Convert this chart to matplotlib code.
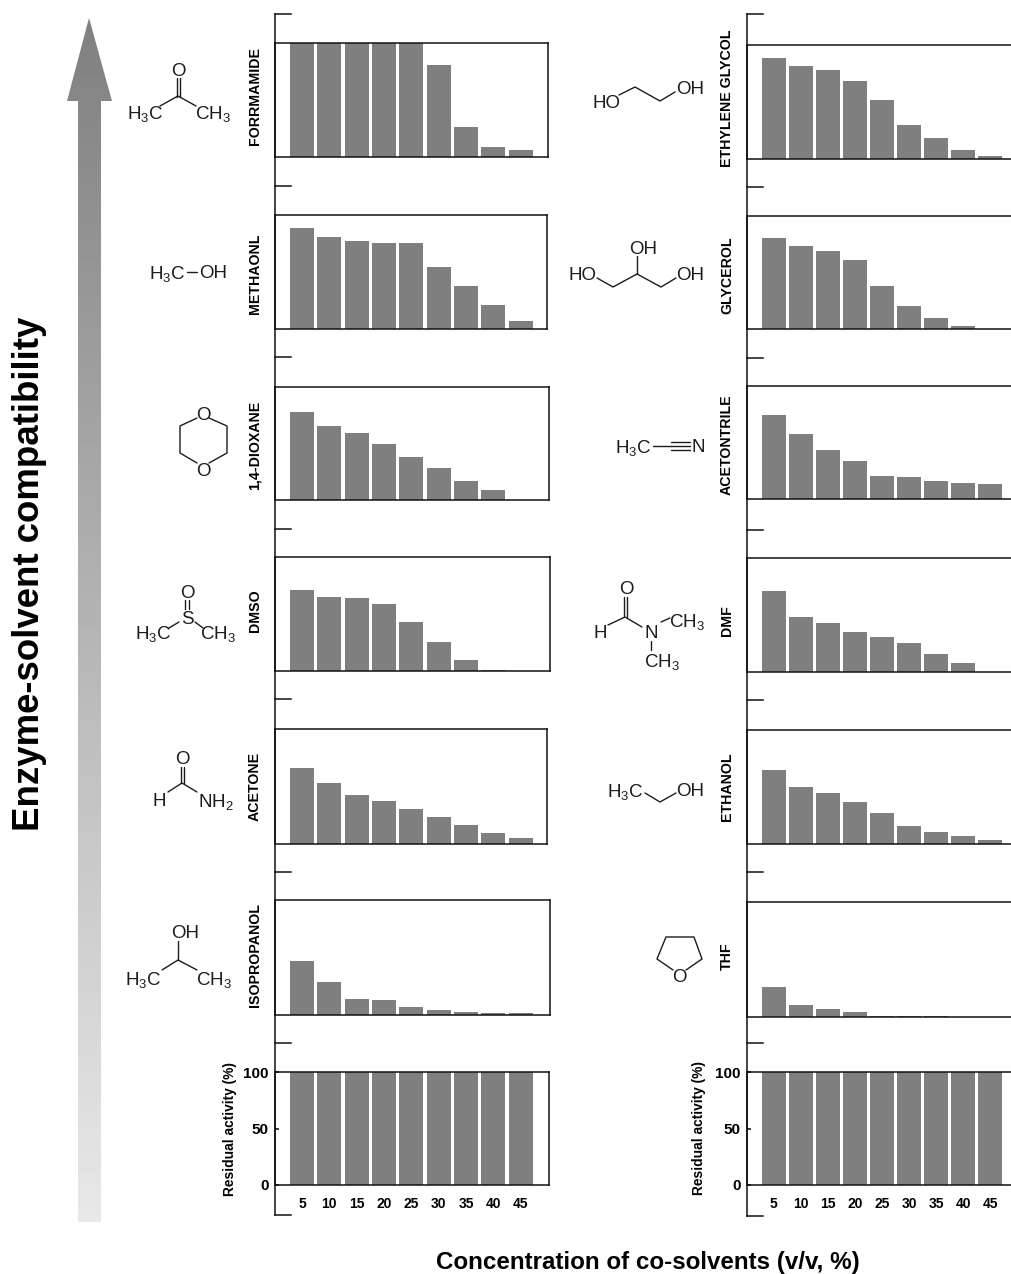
import matplotlib
matplotlib.use("Agg")
import matplotlib.pyplot as plt
from matplotlib.patches import Polygon
import numpy as np

plt.rcParams["font.family"] = ["Liberation Sans", "DejaVu Sans"]
plt.rcParams["mathtext.default"] = "regular"

WIDTH = 1011
HEIGHT = 1274
BAR_COLOR = "#7f7f7f"
INK = "#1c1c1c"

concentrations = [5, 10, 15, 20, 25, 30, 35, 40, 45]

left_names = ["FORRMAMIDE", "METHAONL", "1,4-DIOXANE", "DMSO", "ACETONE", "ISOPROPANOL"]
formamide = [100, 100, 100, 100, 100, 80.6, 26, 8.8, 6]
methanol = [88.6, 80.4, 77.5, 75.4, 75.4, 54.7, 38, 21.3, 7]
dioxane = [78, 65.5, 59, 49.5, 38, 28.3, 17, 9, 0]
dmso = [71, 65, 64, 58.8, 43, 25.4, 9.6, 0.9, 0]
acetone = [66, 53, 42.6, 37.4, 30.4, 23.5, 16.5, 9.6, 5.2]
isopropanol = [47.2, 28.4, 13.9, 13.3, 6.7, 4, 2.6, 2, 1.4]

right_names = ["ETHYLENE GLYCOL", "GLYCEROL", "ACETONTRILE", "DMF", "ETHANOL", "THF"]
ethylene_glycol = [88.9, 81.3, 77.8, 68.4, 51.5, 30, 18.7, 7.6, 2.6]
glycerol = [80.4, 73.3, 68.6, 61, 37.8, 20.2, 9.4, 2.9, 0]
acetonitrile = [74.3, 57.5, 43.4, 33.6, 20.4, 19.5, 16, 14, 13.7]
dmf = [71, 48, 43, 35, 30.7, 25.4, 15.8, 8, 0]
ethanol = [65, 50, 44.7, 36.8, 27.2, 15.8, 10.5, 7, 3.5]
thf = [26.3, 10.4, 7.2, 4.6, 1.2, 0.9, 0.7, 0, 0]

control = [100, 100, 100, 100, 100, 100, 100, 100, 100]

left_series = [formamide, methanol, dioxane, dmso, acetone, isopropanol, control]
right_series = [ethylene_glycol, glycerol, acetonitrile, dmf, ethanol, thf, control]
left_labels = left_names + [None]
right_labels = right_names + [None]

# box pixel positions: (right edge, top, bottom)
left_boxes = [(548, 43, 157), (547, 215, 329), (549, 387, 500), (550, 557, 671),
              (547, 729, 844), (550, 900, 1015), (549, 1072, 1185)]
right_boxes = [(1011, 45, 159), (1011, 216, 329), (1011, 386, 499), (1011, 558, 672),
               (1011, 730, 844), (1011, 902, 1017), (1011, 1072, 1185)]
left_label_y = [96, 274, 445, 611, 786, 955]
right_label_y = [98, 275, 445, 621, 787, 956]
left_ticks_y = [14, 186, 357, 529, 699, 872, 1043, 1215]
right_ticks_y = [14, 187, 358, 530, 700, 872, 1043, 1216]


def add_panel(fig, x_left, box, first_center, step, values, label, right_spine):
    right, top, bottom = box
    ax = fig.add_axes([x_left/WIDTH, 1-bottom/HEIGHT,
                       (right-x_left)/WIDTH, (bottom-top)/HEIGHT],
                      facecolor="none")
    per_px = 5/step
    ax.set_xlim(5-(first_center-x_left)*per_px, 5+(right-first_center)*per_px)
    ax.set_ylim(0, 100)
    ax.bar(concentrations, values, width=24*per_px, color=BAR_COLOR, linewidth=0)
    for side in ax.spines:
        ax.spines[side].set_linewidth(1.1)
        ax.spines[side].set_color("#111111")
    ax.spines["right"].set_visible(right_spine)
    if label is None:
        ax.set_yticks([0, 50, 100])
        ax.set_xticks(concentrations)
        ax.tick_params(axis="y", direction="in", length=3, width=1.1, pad=4.5,
                       labelsize=11)
        ax.tick_params(axis="x", length=0, pad=8.5, labelsize=10)
        for item in ax.get_xticklabels()+ax.get_yticklabels():
            item.set_fontweight("bold")
    else:
        ax.set_xticks([])
        ax.set_yticks([])
    return ax


def bonds(ax, *paths):
    for path in paths:
        xs, ys = zip(*path)
        ax.plot(xs, ys, color=INK, lw=1.0, solid_capstyle="round",
                solid_joinstyle="round")


def atoms(ax, *items):
    for x, y, s in items:
        ax.text(x, y, s, fontsize=13.5, color=INK, ha="center",
                va="center_baseline")


fig = plt.figure(figsize=(WIDTH/100, HEIGHT/100), dpi=100)
canvas = fig.add_axes([0, 0, 1, 1])

# gradient arrow
ramp = np.linspace(0.5, 0.91, 256).reshape(-1, 1)
image = canvas.imshow(ramp, cmap="gray", vmin=0, vmax=1, extent=[60, 120, 1222, 18],
                      aspect="auto", interpolation="bilinear")
arrow = Polygon([(89, 18), (112, 101), (101, 101), (101, 1222), (78, 1222),
                 (78, 101), (67, 101)], closed=True, transform=canvas.transData,
                facecolor="none", edgecolor="none")
canvas.add_patch(arrow)
image.set_clip_path(arrow)
canvas.set_xlim(0, WIDTH)
canvas.set_ylim(HEIGHT, 0)
canvas.axis("off")

canvas.text(30, 574, "Enzyme-solvent compatibility", rotation=90, fontsize=26.4,
            fontweight="bold", ha="center", va="center", color="black")
canvas.text(648, 1263, "Concentration of co-solvents (v/v, %)", fontsize=17.4,
            fontweight="bold", ha="center", va="center", color="black")
canvas.text(230, 1129, "Residual activity (%)", rotation=90, fontsize=9.9,
            fontweight="bold", ha="center", va="center")
canvas.text(699, 1128, "Residual activity (%)", rotation=90, fontsize=9.9,
            fontweight="bold", ha="center", va="center")

# long shared axis line with its loose ticks
for x, ticks in [(275, left_ticks_y), (747, right_ticks_y)]:
    canvas.plot([x, x], [ticks[0], ticks[-1]], color="#111111", lw=1.1)
    for y in ticks:
        canvas.plot([x, x+16], [y, y], color="#111111", lw=1.1)

for values, box, label, label_y in zip(left_series, left_boxes, left_labels,
                                       left_label_y+[None]):
    add_panel(fig, 275, box, 302, 27.35, values, label, True)
    if label is not None:
        canvas.text(255, label_y, label, rotation=90, fontsize=10.2, fontweight="bold",
                    ha="center", va="center")
for values, box, label, label_y in zip(right_series, right_boxes, right_labels,
                                       right_label_y+[None]):
    add_panel(fig, 747, box, 773.5, 27.1, values, label, False)
    if label is not None:
        canvas.text(727, label_y, label, rotation=90, fontsize=10.2, fontweight="bold",
                    ha="center", va="center")

# acetone
atoms(canvas, (178, 69, "O"), (145, 111, "H$_3$C"), (213, 111, "CH$_3$"))
bonds(canvas, [(176.5, 78), (176.5, 97)], [(179.5, 78), (179.5, 97)],
      [(160, 106), (178, 96), (196, 106)])
# methanol
atoms(canvas, (167, 272, "H$_3$C"), (213, 272, "OH"))
bonds(canvas, [(187, 272), (197, 272)])
# 1,4-dioxane
atoms(canvas, (203, 413, "O"), (203, 469, "O"))
bonds(canvas, [(197, 418), (180, 426), (180, 453), (197, 463)],
      [(209, 418), (227, 426), (227, 453), (209, 463)])
# DMSO
atoms(canvas, (187, 592, "O"), (187, 618, "S"), (153, 631, "H$_3$C"), (218, 631, "CH$_3$"))
bonds(canvas, [(185, 600), (185, 609)], [(189, 600), (189, 609)],
      [(169, 628), (179, 622)], [(195, 622), (203, 628)])
# formamide
atoms(canvas, (182, 758, "O"), (159, 799, "H"), (216, 799, "NH$_2$"))
bonds(canvas, [(180.5, 767), (180.5, 783)], [(183.5, 767), (183.5, 783)],
      [(168, 792), (182, 783), (197, 792)])
# isopropanol
atoms(canvas, (185, 932, "OH"), (143, 977, "H$_3$C"), (214, 977, "CH$_3$"))
bonds(canvas, [(178, 941), (178, 960)], [(162, 970), (178, 960), (197, 970)])
# ethylene glycol
atoms(canvas, (606, 101, "HO"), (690, 87, "OH"))
bonds(canvas, [(619, 95), (635, 87), (660, 101), (675, 92)])
# glycerol
atoms(canvas, (643, 247, "OH"), (582, 274, "HO"), (690, 274, "OH"))
bonds(canvas, [(597, 278), (613, 287), (637, 274), (661, 287), (676, 278)],
      [(637, 274), (637, 256)])
# acetonitrile
atoms(canvas, (633, 446, "H$_3$C"), (698, 446, "N"))
bonds(canvas, [(653, 446), (671, 446)], [(671, 441.5), (690, 441.5)],
      [(671, 445.5), (690, 445.5)], [(671, 449.5), (690, 449.5)])
# DMF
atoms(canvas, (626, 588, "O"), (600, 632, "H"), (651, 632, "N"),
      (687, 619, "CH$_3$"), (662, 660, "CH$_3$"))
bonds(canvas, [(624, 597), (624, 617)], [(627, 597), (627, 617)],
      [(608, 625), (625, 617), (642, 627)], [(661, 622), (670, 618)],
      [(651, 641), (651, 650)])
# ethanol
atoms(canvas, (625, 789, "H$_3$C"), (690, 789, "OH"))
bonds(canvas, [(645, 793), (660, 802), (676, 793)])
# THF
atoms(canvas, (679, 976, "O"))
bonds(canvas, [(673, 970), (657, 959), (666, 937), (694, 937), (702, 959), (686, 970)])

plt.savefig("out.png", dpi=100)
